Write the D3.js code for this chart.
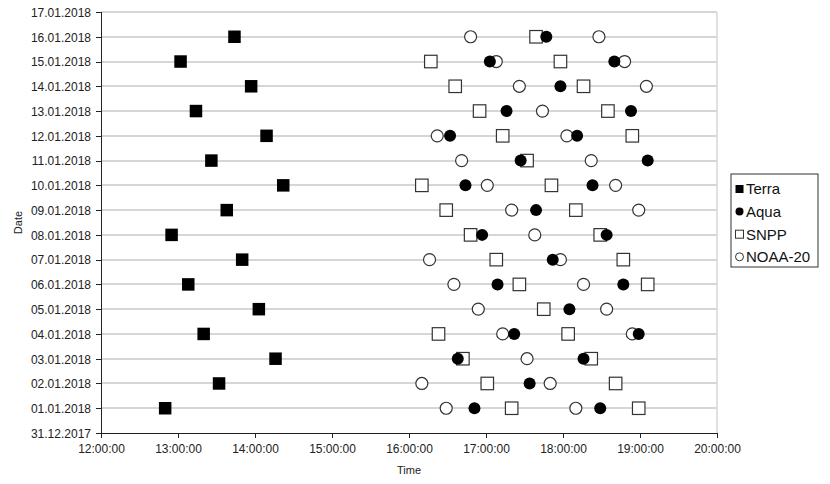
<!DOCTYPE html>
<meta charset="utf-8">
<style>
body { margin: 0; background: #fff; }
svg { font-family: Arial, "Liberation Sans", sans-serif; }
.axis path, .axis line { stroke: #222; shape-rendering: crispEdges; }
.axis text { fill: #222; font-size: 12px; }
.grid line { stroke: #d6d6d6; stroke-width: 1.5px; shape-rendering: crispEdges; }
</style>
<body>
<script src="https://d3js.org/d3.v7.min.js"></script>
<script>

// date labels on the y axis (bottom to top)
var dayLabels = ["31.12.2017", "01.01.2018", "02.01.2018", "03.01.2018", "04.01.2018", "05.01.2018",
  "06.01.2018", "07.01.2018", "08.01.2018", "09.01.2018", "10.01.2018", "11.01.2018",
  "12.01.2018", "13.01.2018", "14.01.2018", "15.01.2018", "16.01.2018", "17.01.2018"];

var timeTicks = ["12:00:00", "13:00:00", "14:00:00", "15:00:00", "16:00:00", "17:00:00", "18:00:00", "19:00:00", "20:00:00"];

// overpass times, one entry per day from 01.01 to 16.01
var terra = ["12:50", "13:32", "14:16", "13:20", "14:03", "13:08", "13:50", "12:55",
  "13:38", "14:22", "13:26", "14:09", "13:14", "13:57", "13:02", "13:44"];

var aqua = [["16:51", "18:29"], ["17:34"], ["16:38", "18:16"], ["17:22", "18:59"], ["18:05"],
  ["17:09", "18:47"], ["17:52"], ["16:57", "18:34"], ["17:39"], ["16:44", "18:23"],
  ["17:27", "19:06"], ["16:32", "18:11"], ["17:16", "18:53"], ["17:58"], ["17:03", "18:40"], ["17:47"]];

var snpp = [["17:20", "18:59"], ["17:01", "18:41"], ["16:42", "18:22"], ["16:23", "18:04"], ["17:45"],
  ["17:26", "19:06"], ["17:08", "18:47"], ["16:48", "18:29"], ["16:29", "18:10"], ["16:10", "17:51"],
  ["17:32"], ["17:13", "18:54"], ["16:55", "18:35"], ["16:36", "18:16"], ["16:17", "17:58"], ["17:39"]];

var noaa20 = [["16:29", "18:10"], ["16:10", "17:50"], ["17:32"], ["17:13", "18:54"], ["16:54", "18:34"],
  ["16:35", "18:16"], ["16:16", "17:58"], ["17:38"], ["17:20", "18:59"], ["17:01", "18:41"],
  ["16:41", "18:22"], ["16:22", "18:03"], ["17:44"], ["17:26", "19:05"], ["17:08", "18:48"], ["16:48", "18:28"]];

var seriesNames = ["Terra", "Aqua", "SNPP", "NOAA-20"];

var margin = {top: 12, right: 113, bottom: 51, left: 101},
    width = 830 - margin.left - margin.right,
    height = 484 - margin.top - margin.bottom;

function hours(s) {
  var p = s.split(":");
  return +p[0] + (+p[1]) / 60;
}

function flatten(list) {
  var out = [];
  list.forEach(function(times, i) {
    times.forEach(function(t) { out.push({day: i + 1, h: hours(t)}); });
  });
  return out;
}

var x = d3.scaleLinear().domain([12, 20]).range([0, width]);
var y = d3.scaleLinear().domain([0, 17]).range([height, 0]);

var svg = d3.select("body").append("svg")
    .attr("width", 830)
    .attr("height", 484)
  .append("g")
    .attr("transform", "translate(" + margin.left + "," + margin.top + ")");

// gridlines
svg.append("g")
    .attr("class", "grid")
  .selectAll("line")
    .data(d3.range(1, 18))
  .enter().append("line")
    .attr("x1", 0)
    .attr("x2", width)
    .attr("y1", function(d) { return Math.round(y(d)); })
    .attr("y2", function(d) { return Math.round(y(d)); });

svg.append("line")
    .attr("x1", width).attr("x2", width)
    .attr("y1", 0).attr("y2", height)
    .attr("stroke", "#d6d6d6")
    .attr("stroke-width", 1.5);

svg.append("g")
    .attr("class", "x axis")
    .attr("transform", "translate(0," + height + ")")
    .call(d3.axisBottom(x)
      .tickValues(d3.range(12, 21))
      .tickSize(5)
      .tickPadding(6)
      .tickFormat(function(d, i) { return timeTicks[i]; }))
    .call(function(g) { g.select(".domain").attr("stroke-width", 1.5); });

svg.append("g")
    .attr("class", "y axis")
    .call(d3.axisLeft(y)
      .tickValues(d3.range(0, 18))
      .tickSize(5)
      .tickPadding(5)
      .tickFormat(function(d) { return dayLabels[d]; }))
    .call(function(g) { g.select(".domain").attr("stroke-width", 1.5); });

svg.select(".y.axis").selectAll(".tick text").attr("dy", "0.36em");

// axis titles
svg.append("text")
    .attr("transform", "rotate(-90)")
    .attr("x", -height / 2)
    .attr("y", -79)
    .attr("text-anchor", "middle")
    .attr("font-size", "11px")
    .attr("fill", "#222")
    .text("Date");

svg.append("text")
    .attr("x", width / 2)
    .attr("y", height + 41)
    .attr("text-anchor", "middle")
    .attr("font-size", "11px")
    .attr("fill", "#222")
    .text("Time");

var sq = 12.5, r = 6;

// SNPP
svg.selectAll(".snpp")
    .data(flatten(snpp))
  .enter().append("rect")
    .attr("class", "snpp")
    .attr("x", function(d) { return x(d.h) - sq / 2; })
    .attr("y", function(d) { return y(d.day) - sq / 2; })
    .attr("width", sq)
    .attr("height", sq)
    .attr("fill", "#fff")
    .attr("stroke", "#333")
    .attr("stroke-width", 1.2);

// NOAA-20
svg.selectAll(".noaa")
    .data(flatten(noaa20))
  .enter().append("circle")
    .attr("class", "noaa")
    .attr("cx", function(d) { return x(d.h); })
    .attr("cy", function(d) { return y(d.day); })
    .attr("r", r)
    .attr("fill", "#fff")
    .attr("stroke", "#333")
    .attr("stroke-width", 1.2);

// Terra
svg.selectAll(".terra")
    .data(terra)
  .enter().append("rect")
    .attr("class", "terra")
    .attr("x", function(d) { return x(hours(d)) - sq / 2; })
    .attr("y", function(d, i) { return y(i + 1) - sq / 2; })
    .attr("width", sq)
    .attr("height", sq)
    .attr("fill", "#000");

// Aqua
svg.selectAll(".aqua")
    .data(flatten(aqua))
  .enter().append("circle")
    .attr("class", "aqua")
    .attr("cx", function(d) { return x(d.h); })
    .attr("cy", function(d) { return y(d.day); })
    .attr("r", r)
    .attr("fill", "#000");

// legend
var legend = d3.select("svg").append("g")
    .attr("transform", "translate(731,174)");

legend.append("rect")
    .attr("width", 87)
    .attr("height", 93)
    .attr("fill", "#fff")
    .attr("stroke", "#333")
    .attr("stroke-width", 1);

var item = legend.selectAll(".legend")
    .data(seriesNames)
  .enter().append("g")
    .attr("class", "legend")
    .attr("transform", function(d, i) { return "translate(0," + (15 + i * 22.6) + ")"; });

item.each(function(d, i) {
  var g = d3.select(this);
  if (i === 0 || i === 2) {
    g.append("rect")
        .attr("x", 4.5).attr("y", -4)
        .attr("width", 8).attr("height", 8)
        .attr("fill", i === 0 ? "#000" : "#fff")
        .attr("stroke", i === 0 ? "none" : "#333");
  } else {
    g.append("circle")
        .attr("cx", 8.5).attr("cy", 0)
        .attr("r", 4)
        .attr("fill", i === 1 ? "#000" : "#fff")
        .attr("stroke", i === 1 ? "none" : "#333");
  }
  g.append("text")
      .attr("x", 15)
      .attr("dy", "0.36em")
      .attr("font-size", "15px")
      .attr("fill", "#111")
      .text(d);
});

</script>
</body>
